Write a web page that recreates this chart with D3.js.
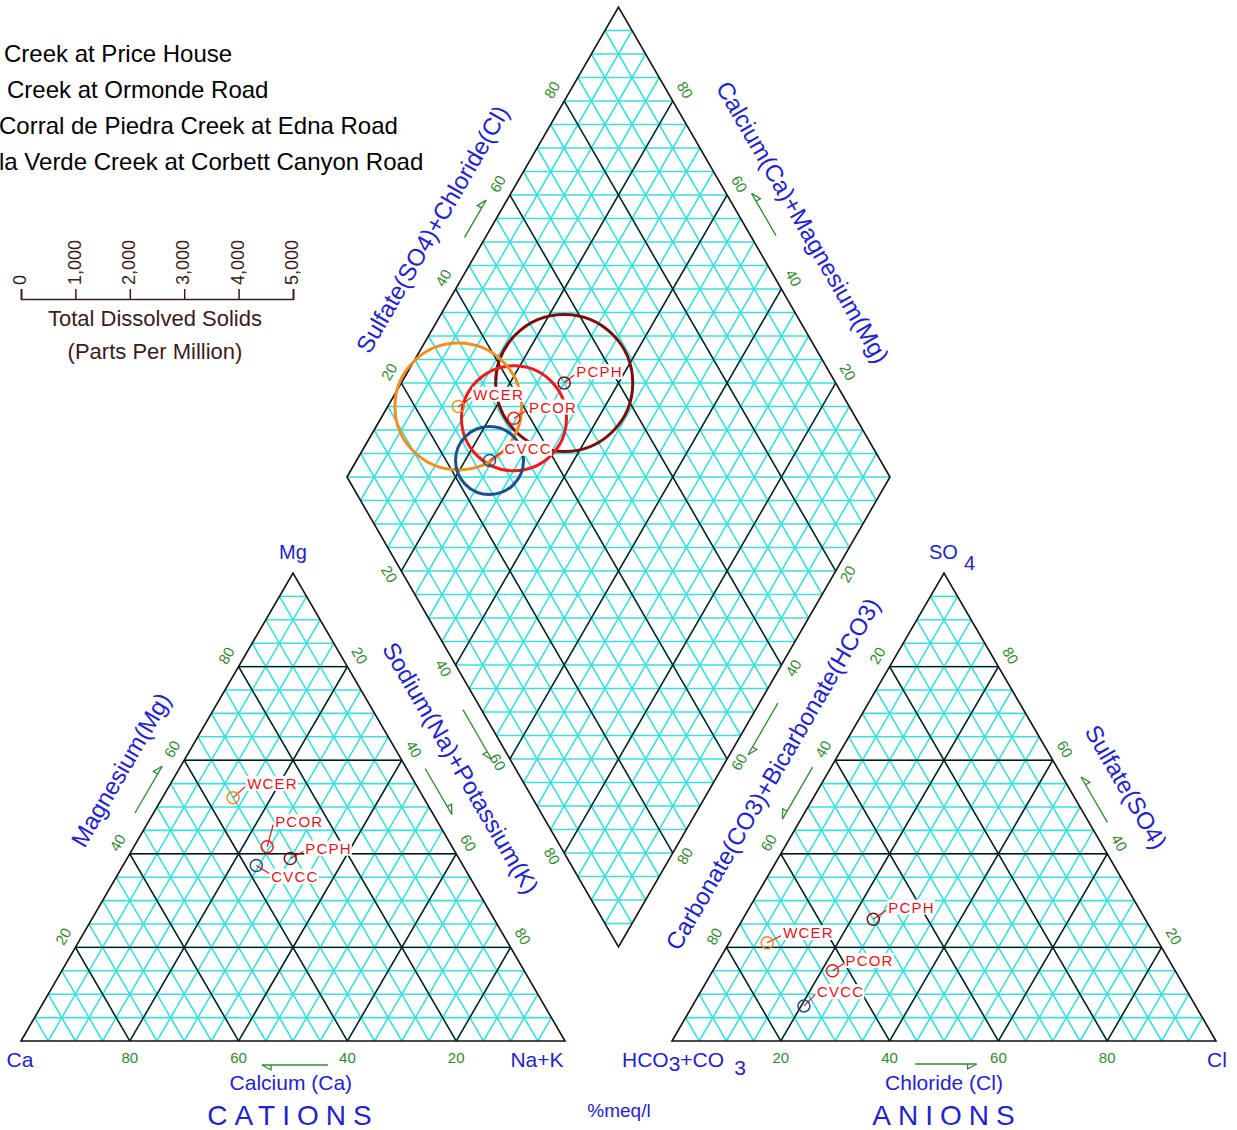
<!DOCTYPE html>
<html><head><meta charset="utf-8">
<script src="https://cdn.jsdelivr.net/npm/d3@7"></script>
<style>
html,body{margin:0;padding:0;background:#fff;}
svg{display:block;font-family:"Liberation Sans",Arial,Helvetica,sans-serif;}
</style></head><body>
<svg id="chart" width="1237" height="1130"></svg>
<script>
// ---------------- DATA ----------------
const sites = ["PCPH", "PCOR", "WCER", "CVCC"];
const siteNames = ["Creek at Price House", "Creek at Ormonde Road", "Corral de Piedra Creek at Edna Road", "la Verde Creek at Corbett Canyon Road"];
// cations, % meq/l
const calcium = [31, 34, 35, 38];
const magnesium = [39, 41.5, 52, 37.5];
const sodiumPotassium = [30, 24.5, 13, 24.5];
// anions, % meq/l
const bicarbonate = [50, 63, 72, 72];
const sulfate = [26, 15, 21, 7.5];
const chloride = [24, 22, 7, 20.5];
// total dissolved solids, ppm
const tds = [1260, 965, 1165, 625];
const tdsTicks = [0, 1000, 2000, 3000, 4000, 5000];
const percentTicks = [20, 40, 60, 80];
const gridSteps = d3.range(5, 100, 5);

// ---------------- STYLE / LAYOUT ----------------
const BLUE = "#2323cc", GREEN = "#2f8a2f", CYAN = "#3cdede", BLACK = "#111", LABEL_RED = "#e0161c", TDS_COLOR = "#3a1c1c";
const siteColors = ["#7d0c0c", "#ee1c1c", "#f0901e", "#1c4f8c"];
const svg = d3.select("#chart");

const triSide = 544, triHeight = 468, baseY = 1041;
const catX = d3.scaleLinear().domain([0, 100]).range([21, 21 + triSide]);
const anX = d3.scaleLinear().domain([0, 100]).range([672, 672 + triSide]);
const triY = d3.scaleLinear().domain([0, 100]).range([baseY, baseY - triHeight]);
const catPos = (ca, mg, nak) => [catX(nak + mg / 2), triY(mg)];
const anPos = (hco3, so4, cl) => [anX(cl + so4 / 2), triY(so4)];
const diaU = d3.scaleLinear().domain([0, 100]).range([0, 271.5]);
const diaV = d3.scaleLinear().domain([0, 100]).range([0, 470]);
const diaPos = (nak, sc) => [347 + diaU(nak + sc), 477 + diaV(nak - sc)];

const gCyan = svg.append("g").attr("stroke", CYAN).attr("stroke-width", 1.6);
const gBlack = svg.append("g").attr("stroke", BLACK).attr("stroke-width", 1.4);
function seg(g, a, b) {
  g.append("line").attr("x1", a[0]).attr("y1", a[1]).attr("x2", b[0]).attr("y2", b[1]);
}

// triangle grids
[catPos, anPos].forEach(P => {
  gridSteps.forEach(v => {
    [gCyan].concat(v % 20 === 0 ? [gBlack] : []).forEach(gg => {
      seg(gg, P(100 - v, v, 0), P(0, v, 100 - v));
      seg(gg, P(100 - v, 0, v), P(0, 100 - v, v));
      seg(gg, P(v, 100 - v, 0), P(v, 0, 100 - v));
    });
  });
  const outline = [P(100, 0, 0), P(0, 100, 0), P(0, 0, 100)];
  gBlack.append("polygon").attr("points", outline.map(p => p.join(",")).join(" ")).attr("fill", "none").attr("stroke-width", 1.6);
});

// diamond grid
gridSteps.forEach(v => {
  [gCyan].concat(v % 20 === 0 ? [gBlack] : []).forEach(gg => {
    seg(gg, diaPos(v, 0), diaPos(v, 100));
    seg(gg, diaPos(0, v), diaPos(100, v));
  });
});
d3.range(-95, 100, 5).forEach(d => {
  if (d >= 0) seg(gCyan, diaPos(d, 0), diaPos(100, 100 - d));
  else seg(gCyan, diaPos(0, -d), diaPos(100 + d, 100));
});
gBlack.append("polygon").attr("points", [diaPos(0, 0), diaPos(0, 100), diaPos(100, 100), diaPos(100, 0)].map(p => p.join(",")).join(" "))
  .attr("fill", "none").attr("stroke-width", 1.6);

// ---------------- EDGES ----------------
function edgeFrame(p0, p1, inside) {
  const dx = p1[0] - p0[0], dy = p1[1] - p0[1], len = Math.hypot(dx, dy);
  const ux = dx / len, uy = dy / len;
  let nx = uy, ny = -ux;
  const mx = (p0[0] + p1[0]) / 2, my = (p0[1] + p1[1]) / 2;
  if ((inside[0] - mx) * nx + (inside[1] - my) * ny > 0) { nx = -nx; ny = -ny; }
  let ang = Math.atan2(dy, dx) * 180 / Math.PI;
  if (ang > 90) ang -= 180; if (ang < -90) ang += 180;
  return { at: (f, d) => [p0[0] + dx * f + nx * d, p0[1] + dy * f + ny * d], ux, uy, nx, ny, ang };
}
const catC = catPos(33, 33, 34), anC = anPos(33, 33, 34), diaC = diaPos(50, 50);
const catL = edgeFrame(catPos(100, 0, 0), catPos(0, 100, 0), catC);
const catR = edgeFrame(catPos(0, 100, 0), catPos(0, 0, 100), catC);
const catB = edgeFrame(catPos(0, 0, 100), catPos(100, 0, 0), catC);
const anL = edgeFrame(anPos(0, 100, 0), anPos(100, 0, 0), anC);
const anR = edgeFrame(anPos(0, 0, 100), anPos(0, 100, 0), anC);
const anB = edgeFrame(anPos(100, 0, 0), anPos(0, 0, 100), anC);
const diaUL = edgeFrame(diaPos(0, 0), diaPos(0, 100), diaC);
const diaUR = edgeFrame(diaPos(100, 100), diaPos(0, 100), diaC);
const diaLL = edgeFrame(diaPos(0, 0), diaPos(100, 0), diaC);
const diaLR = edgeFrame(diaPos(100, 100), diaPos(100, 0), diaC);

// percent tick labels
const gTick = svg.append("g").attr("fill", GREEN).attr("font-size", 15).attr("text-anchor", "middle");
function tickLabels(edge, isBase) {
  percentTicks.forEach(v => {
    const f = v / 100;
    const p = isBase ? edge.at(f, 17) : edge.at(f, 14);
    const y = isBase ? p[1] : p[1] - 4;
    gTick.append("text").attr("transform", `translate(${p[0]},${y}) rotate(${isBase ? 0 : edge.ang})`)
      .attr("dy", "0.35em").text(v);
  });
}
tickLabels(catL);          // Mg
tickLabels(catR);          // Na+K
tickLabels(catB, true);    // Ca
tickLabels(anL);           // HCO3
tickLabels(anR);           // SO4
tickLabels(anB, true);     // Cl
tickLabels(diaUL);         // SO4+Cl
tickLabels(diaUR);         // Ca+Mg
tickLabels(diaLL);         // Na+K
tickLabels(diaLR);         // HCO3

// arrows
const gArrow = svg.append("g").attr("stroke", GREEN).attr("stroke-width", 1.3).attr("fill", "none");
function arrow(edge, f1, f2, d) {
  const a = edge.at(f1, d), b = edge.at(f2, d);
  gArrow.append("line").attr("x1", a[0]).attr("y1", a[1]).attr("x2", b[0]).attr("y2", b[1]);
  const dir = Math.sign(f2 - f1);
  const bx = b[0] - edge.ux * dir * 9, by = b[1] - edge.uy * dir * 9;
  gArrow.append("path").attr("d", `M${b[0]},${b[1]} L${bx + edge.nx * 5},${by + edge.ny * 5} L${bx},${by}`);
}
arrow(catL, 0.47, 0.57, 16);
arrow(catR, 0.435, 0.533, 16);
arrow(diaLL, 0.478, 0.584, 16);
arrow(diaLR, 0.464, 0.574, 16);
arrow(anL, 0.432, 0.543, 16);
arrow(anR, 0.45, 0.547, 16);
arrow(diaUL, 0.49, 0.57, 18);
arrow(diaUR, 0.49, 0.58, 22);
arrow(catB, 0.436, 0.557, 24);
arrow(anB, 0.447, 0.56, 23);

// axis titles
const gTitle = svg.append("g").attr("fill", BLUE).attr("text-anchor", "middle");
function title(edge, f, d, text, size, horizontal) {
  const p = edge.at(f, d);
  gTitle.append("text").attr("transform", `translate(${p[0]},${p[1]}) rotate(${horizontal ? 0 : edge.ang})`)
    .attr("dy", "0.35em").attr("font-size", size).text(text);
}
title(catL, 0.526, 50, "Magnesium(Mg)", 24);
title(catR, 0.467, 47, "Sodium(Na)+Potassium(K)", 24);
title(anL, 0.48, 47, "Carbonate(CO3)+Bicarbonate(HCO3)", 24);
title(anR, 0.489, 50, "Sulfate(SO4)", 24);
title(diaUL, 0.474, 50, "Sulfate(SO4)+Chloride(Cl)", 24);
title(diaUR, 0.487, 52, "Calcium(Ca)+Magnesium(Mg)", 24);
title(catB, 0.504, 42, "Calcium (Ca)", 21, true);
title(anB, 0.5, 42, "Chloride (Cl)", 21, true);

// corner labels
const gCorner = svg.append("g").attr("fill", BLUE).attr("font-size", 21).attr("text-anchor", "middle");
gCorner.append("text").attr("x", catPos(100, 0, 0)[0] - 1).attr("y", baseY + 19).attr("dy", "0.35em").text("Ca");
gCorner.append("text").attr("x", catPos(0, 0, 100)[0] - 28).attr("y", baseY + 19).attr("dy", "0.35em").text("Na+K");
gCorner.append("text").attr("x", catPos(0, 100, 0)[0]).attr("y", triY(100) - 21).attr("dy", "0.35em").attr("font-size", 20).text("Mg");
const so4t = gCorner.append("text").attr("x", anPos(0, 100, 0)[0] + 8).attr("y", triY(100) - 21).attr("dy", "0.35em").attr("font-size", 20);
so4t.append("tspan").text("SO");
so4t.append("tspan").attr("dx", 6).attr("dy", 11).text("4");
const hco = gCorner.append("text").attr("x", 622).attr("y", baseY + 19).attr("dy", "0.35em").attr("text-anchor", "start");
hco.append("tspan").text("HCO");
hco.append("tspan").attr("dy", 4).text("3");
hco.append("tspan").attr("dy", -4).text("+CO");
hco.append("tspan").attr("dx", 10).attr("dy", 8).text("3");
gCorner.append("text").attr("x", anPos(0, 0, 100)[0] + 1).attr("y", baseY + 19).attr("dy", "0.35em").text("Cl");

svg.append("text").attr("x", catPos(0, 100, 0)[0]).attr("y", 1115).attr("dy", "0.35em").attr("text-anchor", "middle")
  .attr("fill", BLUE).attr("font-size", 28).attr("letter-spacing", 7).text("CATIONS");
svg.append("text").attr("x", anPos(0, 100, 0)[0] + 3).attr("y", 1115).attr("dy", "0.35em").attr("text-anchor", "middle")
  .attr("fill", BLUE).attr("font-size", 28).attr("letter-spacing", 7).text("ANIONS");
svg.append("text").attr("x", 619).attr("y", 1110).attr("dy", "0.35em").attr("text-anchor", "middle")
  .attr("fill", BLUE).attr("font-size", 19).text("%meq/l");

// ---------------- TDS scale ----------------
const tdsScale = d3.scaleLinear().domain([0, 5000]).range([21, 293]);
const tdsAxis = svg.append("g").attr("transform", "translate(0,299)")
  .call(d3.axisTop(tdsScale).tickValues(tdsTicks).tickFormat(d3.format(",")).tickSize(10).tickSizeOuter(10));
tdsAxis.select(".domain").attr("stroke", TDS_COLOR).attr("stroke-width", 1.6);
tdsAxis.selectAll(".tick line").attr("stroke", TDS_COLOR).attr("stroke-width", 1.5);
tdsAxis.selectAll(".tick text").attr("fill", TDS_COLOR).attr("font-size", 18)
  .attr("font-family", '"Liberation Sans",Arial,sans-serif')
  .attr("transform", "rotate(-90)").attr("x", 14).attr("y", -1).attr("dy", "0.32em").attr("text-anchor", "start");
svg.append("text").attr("x", 155).attr("y", 326).attr("text-anchor", "middle").attr("fill", TDS_COLOR).attr("font-size", 22).text("Total Dissolved Solids");
svg.append("text").attr("x", 155).attr("y", 359).attr("text-anchor", "middle").attr("fill", TDS_COLOR).attr("font-size", 22).text("(Parts Per Million)");

// legend (partly cut at left edge in original)
const legendX = [4, 7, -1, -1];
siteNames.forEach((n, i) => {
  svg.append("text").attr("x", legendX[i]).attr("y", 61.5 + 36 * i).attr("fill", "#000").attr("font-size", 24).text(n);
});

// ---------------- DATA MARKS ----------------
const diaPts = sites.map((s, i) => diaPos(sodiumPotassium[i], sulfate[i] + chloride[i]));
const catPts = sites.map((s, i) => catPos(calcium[i], magnesium[i], sodiumPotassium[i]));
const anPts = sites.map((s, i) => anPos(bicarbonate[i], sulfate[i], chloride[i]));

// TDS circles
svg.append("g").selectAll("circle").data(sites).join("circle")
  .attr("cx", (d, i) => diaPts[i][0]).attr("cy", (d, i) => diaPts[i][1])
  .attr("r", (d, i) => tdsScale(tds[i]) - tdsScale(0))
  .attr("fill", "none").attr("stroke", (d, i) => siteColors[i]).attr("stroke-width", 3);

// label offsets (layout)
const labelOffsets = {
  dia: [[12, -11], [15, -11], [15, -12], [15, -12]],
  cat: [[15, -10], [8, -25], [14, -14], [15, 11]],
  an: [[15, -12], [13, -10], [16, -10], [13, -14]]
};
function drawMarkers(pts, offs) {
  const g = svg.append("g");
  pts.forEach((p, i) => {
    const o = offs[i];
    g.append("line").attr("x1", p[0]).attr("y1", p[1]).attr("x2", p[0] + o[0] - 2).attr("y2", p[1] + o[1] + (o[1] < 0 ? 3 : -3))
      .attr("stroke", LABEL_RED).attr("stroke-width", 1.2);
    g.append("circle").attr("cx", p[0]).attr("cy", p[1]).attr("r", 6)
      .attr("fill", "none").attr("stroke", siteColors[i]).attr("stroke-width", 1.5);
  });
  pts.forEach((p, i) => {
    const o = offs[i];
    const lg = g.append("g");
    const rect = lg.append("rect").attr("fill", "#fff");
    const t = lg.append("text").attr("x", p[0] + o[0]).attr("y", p[1] + o[1]).attr("dy", "0.35em")
      .attr("fill", LABEL_RED).attr("font-size", 15).attr("letter-spacing", 1.2).text(sites[i]);
    const bb = t.node().getBBox();
    rect.attr("x", bb.x - 1).attr("y", bb.y + 1).attr("width", bb.width + 1).attr("height", bb.height - 2);
  });
}
drawMarkers(diaPts, labelOffsets.dia);
drawMarkers(catPts, labelOffsets.cat);
drawMarkers(anPts, labelOffsets.an);
</script>
</body></html>
